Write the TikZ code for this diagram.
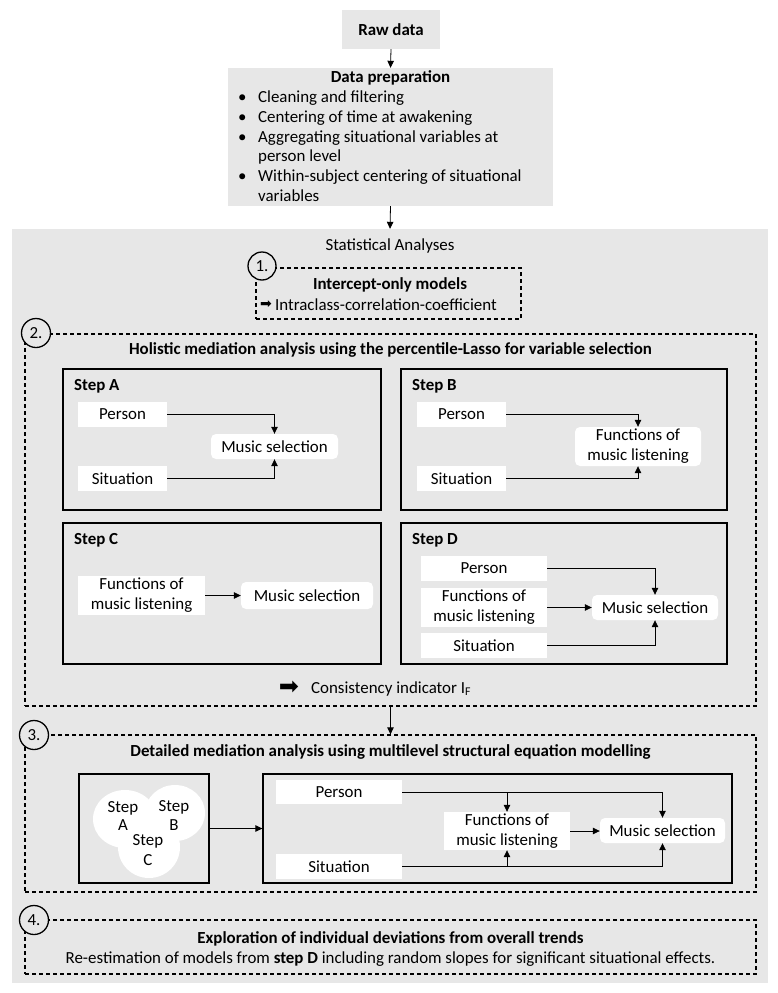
\documentclass[tikz,border=0pt]{standalone}
\usepackage{fontspec}
\setmainfont{Carlito}
\newfontfamily\djv{DejaVu Sans}
\usetikzlibrary{arrows.meta,calc}
\definecolor{bg}{HTML}{E7E7E7}
\newcommand\fs{\fontsize{16.9}{20}\selectfont}
% name, style, x1, y1, x2, y2, text
\newcommand\bx[7]{\node[#2, minimum width={#5-#3}, minimum height={#6-#4}] (#1) at ({(#3+#5)/2},{(#4+#6)/2}) {#7};}
\begin{document}
\begin{tikzpicture}[x=1pt,y=-1pt,font=\fs,
  gbox/.style={fill=bg, draw=none, inner sep=0, align=center},
  wbox/.style={fill=white, draw=none, inner sep=0, align=center},
  rwbox/.style={wbox, rounded corners=5pt},
  stepbox/.style={draw=black, line width=1.3pt, fill=bg, inner sep=0},
  dbox/.style={draw=black, dash pattern=on 4pt off 3pt, line width=1.3pt, inner sep=0},
  num/.style={circle, draw=black, line width=1.3pt, fill=bg, minimum size=29pt, inner sep=0},
  ttl/.style={font=\fs\bfseries, anchor=base},
  txt/.style={anchor=base west, inner sep=0},
  arr/.style={-{Triangle[length=7pt,width=6.5pt]}, line width=0.8pt}]
\useasboundingbox (0,0) rectangle (777,993);
\fill[white] (0,0) rectangle (777,993);

% top
\bx{raw}{gbox}{342}{10}{440}{49}{\textbf{Raw data}}
\bx{dp}{gbox}{228}{68}{553}{206}{}
\node[ttl] (dpt) at (390.5,82) {Data preparation};
\node[txt] (b1) at (238,102) {\textbullet};
\node[txt] (l1) at (258,102) {Cleaning and filtering};
\node[txt] (b2) at (238,122) {\textbullet};
\node[txt] (l2) at (258,122) {Centering of time at awakening};
\node[txt] (b3) at (238,142) {\textbullet};
\node[txt] (l3) at (258,142) {Aggregating situational variables at};
\node[txt] (l3b) at (258,161) {person level};
\node[txt] (b4) at (238,181) {\textbullet};
\node[txt] (l4) at (258,181) {Within-subject centering of situational};
\node[txt] (l4b) at (258,201) {variables};

\bx{stat}{gbox}{12}{229}{768}{983}{}
\draw[arr] (raw.south) -- (dp.north);
\draw[arr] (dp.south) -- (stat.north);
\node[anchor=base] (statt) at (390,250) {Statistical Analyses};

% 1
\bx{d1}{dbox}{256}{268}{521}{319}{}
\node[num, minimum size=28pt] (n1) at (262,266) {1.};
\node[ttl] (d1t) at (390,289) {Intercept-only models};
\node[inner sep=0, font=\djv\fontsize{14}{14}\selectfont] (d1arr) at (266,304.5) {➡};
\node[txt] (d1a) at (275,310) {Intraclass-correlation-coefficient};

% 2
\bx{d2}{dbox}{25}{334}{756}{706}{}
\node[num] (n2) at (36,333) {2.};
\node[ttl] (d2t) at (390.5,354) {Holistic mediation analysis using the percentile-Lasso for variable selection};

% Step A
\bx{sa}{stepbox}{63}{369}{381}{510}{}
\node[txt, font=\fs\bfseries] (sal) at (74,390) {Step A};
\bx{aP}{wbox}{78}{402}{167}{427}{Person}
\bx{aS}{wbox}{78}{466}{167}{491}{Situation}
\bx{aM}{rwbox}{211}{434}{338}{459}{Music selection}
\draw[arr] (aP.east) -| (aM.north);
\draw[arr] (aS.east) -| (aM.south);

% Step B
\bx{sb}{stepbox}{401}{369}{727}{510}{}
\node[txt, font=\fs\bfseries] (sbl) at (412,390) {Step B};
\bx{bP}{wbox}{417}{402}{506}{427}{Person}
\bx{bS}{wbox}{417}{466}{506}{491}{Situation}
\bx{bF}{rwbox}{575}{427}{701}{466}{Functions of\\music listening}
\draw[arr] (bP.east) -| (bF.north);
\draw[arr] (bS.east) -| (bF.south);

% Step C
\bx{sc}{stepbox}{63}{523}{381}{664}{}
\node[txt, font=\fs\bfseries] (scl) at (74,544) {Step C};
\bx{cF}{wbox}{78}{576}{205}{615}{Functions of\\music listening}
\bx{cM}{rwbox}{241}{582}{373}{609}{Music selection}
\draw[arr] (cF.east) -- (cF.east -| cM.west);

% Step D
\bx{sd}{stepbox}{401}{523}{727}{664}{}
\node[txt, font=\fs\bfseries] (sdl) at (412,544) {Step D};
\bx{dP}{wbox}{421}{556}{547}{581}{Person}
\bx{dF}{wbox}{421}{588}{547}{627}{Functions of\\music listening}
\bx{dS}{wbox}{421}{633}{547}{658}{Situation}
\bx{dM}{rwbox}{592}{595}{718}{620}{Music selection}
\draw[arr] (dP.east) -| (dM.north);
\draw[arr] (dF.east) -- (dF.east -| dM.west);
\draw[arr] (dS.east) -| (dM.south);

\node[inner sep=0, font=\djv\fontsize{24}{24}\selectfont] (carr) at (289,688) {➡};
\node[txt] (ctxt) at (311,693) {Consistency indicator I\textsubscript{F}};

% 3
\bx{d3}{dbox}{25}{735}{756}{892}{}
\draw[arr] (d2.south) -- (d3.north);
\node[num] (n3) at (34,735) {3.};
\node[ttl] (d3t) at (390.5,756) {Detailed mediation analysis using multilevel structural equation modelling};
\bx{vb}{stepbox}{79}{774}{209}{883}{}
\fill[white] (125,819) ellipse [x radius=32pt, y radius=29pt];
\fill[white] (175,813) ellipse [x radius=30pt, y radius=28pt];
\fill[white] (149,847) ellipse [x radius=31pt, y radius=31pt];
\node[anchor=base, inner sep=0] (vsa) at (123,812) {Step};
\node[anchor=base, inner sep=0] (vaa) at (123,830) {A};
\node[anchor=base, inner sep=0] (vsb) at (174,811) {Step};
\node[anchor=base, inner sep=0] (vbb) at (174,830) {B};
\node[anchor=base, inner sep=0] (vsc) at (148,845) {Step};
\node[anchor=base, inner sep=0] (vcc) at (148,865) {C};
\bx{rb}{stepbox}{263}{774}{732}{883}{}
\draw[arr] (vb.east) -- (rb.west);
\bx{tP}{wbox}{276}{780}{402}{804}{Person}
\bx{tS}{wbox}{276}{854}{402}{879}{Situation}
\bx{tF}{wbox}{444}{812}{570}{850}{Functions of\\music listening}
\bx{tM}{rwbox}{600}{818}{725}{843}{Music selection}
\draw[arr] (tP.east) -| (tM.north);
\draw[arr] (tP.east -| tF.north) -- (tF.north);
\draw[arr] (tS.east) -| (tM.south);
\draw[arr] (tS.east -| tF.south) -- (tF.south);
\draw[arr] (tF.east) -- (tF.east -| tM.west);

% 4
\bx{d4}{dbox}{25}{920}{756}{974}{}
\node[num] (n4) at (34,920) {4.};
\node[ttl] (d4t) at (390.5,943) {Exploration of individual deviations from overall trends};
\node[anchor=base] (d4a) at (390.5,963) {Re-estimation of models from \textbf{step D} including random slopes for significant situational effects.};
\end{tikzpicture}
\end{document}
